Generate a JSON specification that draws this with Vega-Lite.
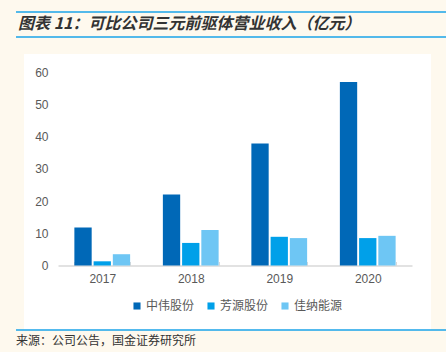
{
  "$schema": "https://vega.github.io/schema/vega-lite/v6.json",
  "autosize": "none",
  "width": 407,
  "height": 276,
  "padding": {"left": 24, "top": 54, "right": 15, "bottom": 22},
  "background": "#fef9ee",
  "config": {"view": {"fill": "white", "stroke": null}, "font": "Liberation Sans"},
  "layer": [
    {
      "data": {"values": [
        {"year": "2017", "company": "中伟股份", "revenue": 11.8},
        {"year": "2017", "company": "芳源股份", "revenue": 1.3},
        {"year": "2017", "company": "佳纳能源", "revenue": 3.5},
        {"year": "2018", "company": "中伟股份", "revenue": 22.0},
        {"year": "2018", "company": "芳源股份", "revenue": 7.0},
        {"year": "2018", "company": "佳纳能源", "revenue": 11.0},
        {"year": "2019", "company": "中伟股份", "revenue": 37.8},
        {"year": "2019", "company": "芳源股份", "revenue": 8.9},
        {"year": "2019", "company": "佳纳能源", "revenue": 8.5},
        {"year": "2020", "company": "中伟股份", "revenue": 56.9},
        {"year": "2020", "company": "芳源股份", "revenue": 8.5},
        {"year": "2020", "company": "佳纳能源", "revenue": 9.2}
      ]},
      "mark": {"type": "bar"},
      "encoding": {
        "x": {
          "field": "year", "type": "nominal",
          "scale": {"range": [34, 388], "paddingInner": 0.37, "paddingOuter": 0.185},
          "axis": {
            "title": null, "labelAngle": 0, "offset": -64.5,
            "labelFontSize": 12, "labelColor": "#595959", "labelPadding": 12,
            "domainColor": "#d9d9d9", "domainWidth": 1.5,
            "tickBand": "extent", "tickColor": "#d9d9d9", "tickSize": -4,
            "grid": false
          }
        },
        "xOffset": {
          "field": "company", "type": "nominal",
          "sort": ["中伟股份", "芳源股份", "佳纳能源"],
          "scale": {"paddingInner": 0.1}
        },
        "y": {
          "field": "revenue", "type": "quantitative",
          "scale": {"domain": [0, 60], "range": [211.5, 18], "nice": false},
          "axis": {
            "title": null, "values": [0, 10, 20, 30, 40, 50, 60],
            "offset": -34, "domain": false, "ticks": false, "grid": false,
            "labelFontSize": 12, "labelColor": "#595959", "labelPadding": 10
          }
        },
        "color": {
          "field": "company", "type": "nominal",
          "scale": {"domain": ["中伟股份", "芳源股份", "佳纳能源"], "range": ["#0068b7", "#00a0e9", "#6ec6f4"]},
          "legend": {
            "title": null, "orient": "none", "legendX": 107, "legendY": 246,
            "direction": "horizontal", "symbolType": "square", "symbolSize": 50,
            "labelFont": "Noto Sans CJK SC", "labelFontSize": 12, "labelColor": "#595959",
            "columnPadding": 10, "labelOffset": 3
          }
        }
      }
    },
    {
      "data": {"values": [{}]},
      "mark": {"type": "rule", "color": "#1aa3e8", "strokeWidth": 1.5, "clip": false},
      "encoding": {"x": {"value": -8}, "x2": {"value": 422}, "y": {"value": -42}}
    },
    {
      "data": {"values": [{}]},
      "mark": {"type": "rule", "color": "#1aa3e8", "strokeWidth": 1.5, "clip": false},
      "encoding": {"x": {"value": -8}, "x2": {"value": 422}, "y": {"value": -17}}
    },
    {
      "data": {"values": [{}]},
      "mark": {"type": "rule", "color": "#1aa3e8", "strokeWidth": 1.5, "clip": false},
      "encoding": {"x": {"value": -8}, "x2": {"value": 422}, "y": {"value": 276}}
    },
    {
      "data": {"values": [{}]},
      "mark": {"type": "text", "align": "left", "baseline": "middle", "fontSize": 16, "font": "Noto Sans CJK SC", "fontStyle": "italic", "fontWeight": "bold", "color": "#333333", "clip": false},
      "encoding": {"x": {"value": -6}, "y": {"value": -30}, "text": {"value": "图表 11：可比公司三元前驱体营业收入（亿元）"}}
    },
    {
      "data": {"values": [{}]},
      "mark": {"type": "text", "align": "left", "baseline": "middle", "fontSize": 12, "font": "Noto Sans CJK SC", "color": "#333333", "clip": false},
      "encoding": {"x": {"value": -8}, "y": {"value": 287}, "text": {"value": "来源：公司公告，国金证券研究所"}}
    }
  ]
}
